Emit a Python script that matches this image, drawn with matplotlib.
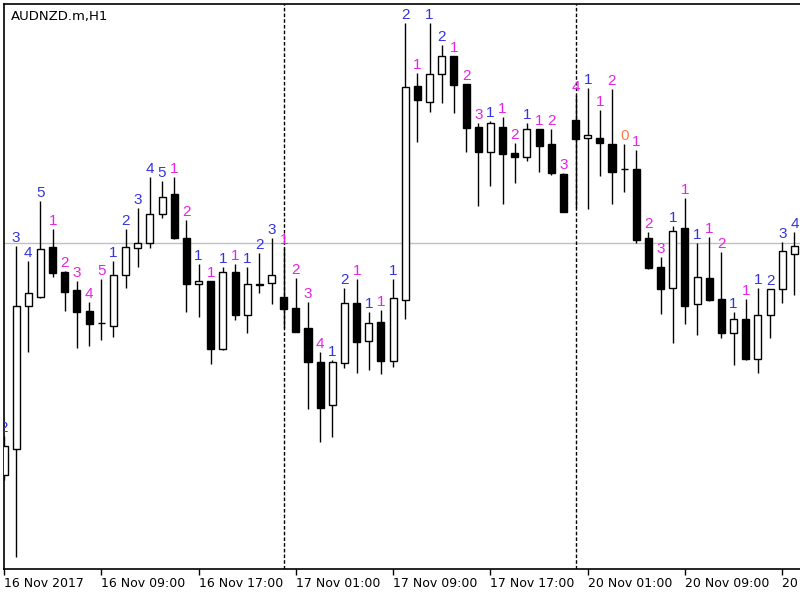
import numpy as np
import matplotlib.pyplot as plt

# AUDNZD.m H1 candles (prices)
opens = [1.10094, 1.10120, 1.10263, 1.10272, 1.10322, 1.10297, 1.10279, 1.10258, 1.10246, 1.10243,
         1.10294, 1.10321, 1.10326, 1.10355, 1.10375, 1.10331, 1.10285, 1.10288, 1.10220, 1.10297,
         1.10254, 1.10285, 1.10286, 1.10272, 1.10261, 1.10241, 1.10207, 1.10164, 1.10206, 1.10266,
         1.10228, 1.10247, 1.10208, 1.10269, 1.10483, 1.10467, 1.10495, 1.10513, 1.10485, 1.10442,
         1.10417, 1.10442, 1.10416, 1.10412, 1.10440, 1.10425, 1.10395, 1.10449, 1.10431, 1.10431,
         1.10425, 1.10400, 1.10400, 1.10331, 1.10302, 1.10281, 1.10341, 1.10265, 1.10291, 1.10270,
         1.10236, 1.10250, 1.10210, 1.10254, 1.10280, 1.10315]
highs = [1.10133, 1.10323, 1.10308, 1.10368, 1.10340, 1.10298, 1.10288, 1.10267, 1.10290, 1.10308,
         1.10340, 1.10361, 1.10392, 1.10388, 1.10392, 1.10349, 1.10305, 1.10288, 1.10302, 1.10305,
         1.10302, 1.10316, 1.10331, 1.10321, 1.10291, 1.10267, 1.10217, 1.10209, 1.10281, 1.10290,
         1.10257, 1.10259, 1.10290, 1.10546, 1.10496, 1.10546, 1.10524, 1.10513, 1.10485, 1.10446,
         1.10448, 1.10452, 1.10426, 1.10446, 1.10440, 1.10440, 1.10396, 1.10474, 1.10481, 1.10459,
         1.10480, 1.10425, 1.10419, 1.10337, 1.10312, 1.10343, 1.10371, 1.10326, 1.10332, 1.10317,
         1.10257, 1.10270, 1.10281, 1.10280, 1.10327, 1.10337]
lows = [1.10089, 1.10012, 1.10217, 1.10271, 1.10292, 1.10258, 1.10221, 1.10223, 1.10229, 1.10232,
        1.10281, 1.10302, 1.10321, 1.10351, 1.10330, 1.10257, 1.10252, 1.10205, 1.10219, 1.10249,
        1.10236, 1.10276, 1.10265, 1.10241, 1.10237, 1.10160, 1.10127, 1.10132, 1.10201, 1.10196,
        1.10199, 1.10195, 1.10202, 1.10250, 1.10427, 1.10457, 1.10466, 1.10456, 1.10417, 1.10363,
        1.10383, 1.10365, 1.10386, 1.10408, 1.10397, 1.10394, 1.10357, 1.10361, 1.10360, 1.10393,
        1.10365, 1.10377, 1.10326, 1.10300, 1.10255, 1.10226, 1.10245, 1.10234, 1.10268, 1.10231,
        1.10204, 1.10209, 1.10196, 1.10231, 1.10266, 1.10274]
closes = [1.10123, 1.10263, 1.10276, 1.10320, 1.10296, 1.10277, 1.10257, 1.10245, 1.10246, 1.10294,
          1.10322, 1.10326, 1.10355, 1.10372, 1.10331, 1.10285, 1.10288, 1.10220, 1.10297, 1.10254,
          1.10285, 1.10284, 1.10294, 1.10260, 1.10237, 1.10207, 1.10161, 1.10207, 1.10266, 1.10227,
          1.10246, 1.10208, 1.10271, 1.10482, 1.10469, 1.10495, 1.10513, 1.10484, 1.10441, 1.10417,
          1.10446, 1.10415, 1.10412, 1.10440, 1.10423, 1.10396, 1.10357, 1.10430, 1.10434, 1.10426,
          1.10397, 1.10400, 1.10329, 1.10301, 1.10280, 1.10338, 1.10263, 1.10292, 1.10269, 1.10236,
          1.10250, 1.10210, 1.10254, 1.10280, 1.10318, 1.10323]

# counter printed above each candle and its colour (b = up, m = down, o = doji)
counts = ("2 3 4 5 1 2 3 4 5 1  2 3 4 5 1 2 1 1 1 1  1 2 3 1 2 3 4 1 2 1  "
          "1 1 1 2 1 1 2 1 2 3  1 1 2 1 1 2 3 4 1 1  2 0 1 2 3 1 1 1 1 2  1 1 1 2 3 4").split()
count_kind = ("bbbbmmmmmb" "bbbbmmbmbm" "bbbmmmmbbm" "bmbbmbbmmm"
              "bmmbmmmmbm" "mommmbmbmm" "bmbbbb")

tick_bars = [0, 8, 16, 24, 32, 40, 48, 56, 64]
tick_labels = ["16 Nov 2017", "16 Nov 09:00", "16 Nov 17:00", "17 Nov 01:00",
               "17 Nov 09:00", "17 Nov 17:00", "20 Nov 01:00", "20 Nov 09:00",
               "20 Nov 17:00"]
day_breaks = [23, 47]
bid = 1.10326

kind_color = {"b": "#3434dc", "m": "#e424e4", "o": "#ff7a45"}

o = np.array(opens)
h = np.array(highs)
l = np.array(lows)
c = np.array(closes)
x = np.arange(len(o))

fig = plt.figure(figsize=(8, 6), dpi=100)
ax = fig.add_axes([0.005, 31 / 600, 0.995, 565 / 600])

lw = 1.0
body_w = 0.58
lo = np.minimum(o, c)
hgt = np.abs(c - o)
up = c > o
down = c < o
flat = c == o

ax.vlines(x, l, h, color="black", lw=lw, zorder=2)
ax.bar(x[up], hgt[up], bottom=lo[up], width=body_w, facecolor="white",
       edgecolor="black", lw=lw, zorder=3)
ax.bar(x[down], hgt[down], bottom=lo[down], width=body_w, facecolor="black",
       edgecolor="black", lw=lw, zorder=3)
ax.hlines(o[flat], x[flat] - body_w / 2, x[flat] + body_w / 2, color="black",
          lw=lw, zorder=3)

for i in range(len(x)):
    ax.annotate(counts[i], (x[i], h[i]), xytext=(0, 1), textcoords="offset points",
                ha="center", va="bottom", fontsize=11, family="Liberation Sans",
                color=kind_color[count_kind[i]], clip_on=True, zorder=4)

# bid line and day separators
ax.axhline(bid, color="#c0c0c0", lw=1.0, zorder=1)
for d in day_breaks:
    ax.axvline(d, color="black", lw=1.0, ls=(0, (2.6, 1.5)), zorder=1)

ax.text(0.009, 0.989, "AUDNZD.m,H1", transform=ax.transAxes, ha="left", va="top",
        fontsize=9.5, family="DejaVu Sans", color="black")

ax.set_xlim(0, 796 / 12.16)
ax.set_ylim(1.10000, 1.10565)
ax.set_yticks([])
ax.set_xticks(tick_bars)
ax.set_xticklabels(tick_labels, ha="left", fontsize=9, family="DejaVu Sans")
ax.tick_params(axis="x", direction="out", length=4.5, width=1, pad=1.5)
for side in ["left", "top", "bottom"]:
    ax.spines[side].set_linewidth(1.2)
ax.spines["right"].set_visible(False)

fig.savefig("out.png", dpi=100)
